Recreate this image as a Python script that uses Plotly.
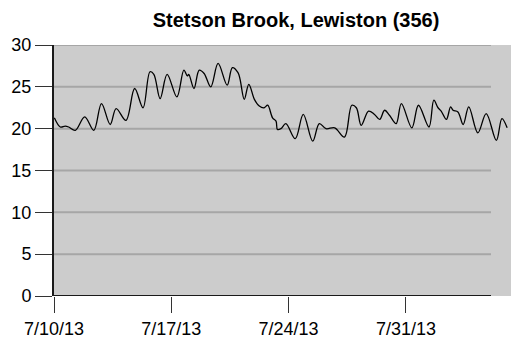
import plotly.graph_objects as go

# Water temperature (°C)
times = [
    "2013-07-10 00:30", "2013-07-10 09:00", "2013-07-10 16:00", "2013-07-10 21:00",
    "2013-07-11 06:30", "2013-07-11 20:00", "2013-07-12 09:00", "2013-07-12 20:00",
    "2013-07-13 08:30", "2013-07-13 17:00", "2013-07-14 07:00", "2013-07-14 19:30",
    "2013-07-15 07:30", "2013-07-15 17:30", "2013-07-15 23:00", "2013-07-16 08:00",
    "2013-07-16 18:00", "2013-07-17 08:00", "2013-07-17 18:00", "2013-07-17 23:00",
    "2013-07-18 01:00", "2013-07-18 08:30", "2013-07-18 16:00", "2013-07-18 23:00",
    "2013-07-19 08:30", "2013-07-19 19:00", "2013-07-20 08:00", "2013-07-20 15:30",
    "2013-07-20 23:30", "2013-07-21 02:30", "2013-07-21 08:30", "2013-07-21 15:00",
    "2013-07-21 23:00", "2013-07-22 06:00", "2013-07-22 13:00", "2013-07-22 18:00",
    "2013-07-23 01:00", "2013-07-23 06:00", "2013-07-23 08:00", "2013-07-23 13:00",
    "2013-07-23 20:00", "2013-07-24 09:30", "2013-07-24 21:00", "2013-07-25 10:30",
    "2013-07-25 20:00", "2013-07-26 05:30", "2013-07-26 18:00", "2013-07-27 08:00",
    "2013-07-27 18:30", "2013-07-28 01:00", "2013-07-28 08:00", "2013-07-28 18:30",
    "2013-07-29 03:00", "2013-07-29 10:30", "2013-07-29 17:30", "2013-07-30 00:30",
    "2013-07-30 10:00", "2013-07-30 17:30", "2013-07-31 08:30", "2013-07-31 18:00",
    "2013-08-01 09:00", "2013-08-01 16:00", "2013-08-01 22:00", "2013-08-02 02:30",
    "2013-08-02 10:00", "2013-08-02 16:00", "2013-08-02 19:30", "2013-08-03 02:30",
    "2013-08-03 10:00", "2013-08-03 18:00", "2013-08-04 07:00", "2013-08-04 19:00",
    "2013-08-05 09:30", "2013-08-05 17:30", "2013-08-06 01:00",
]
temps = [
    21.3, 20.2, 20.3, 20.2,
    19.8, 21.4, 19.8, 23.0,
    20.5, 22.4, 21.0, 24.8,
    22.5, 26.8, 26.5, 23.6,
    26.5, 23.8, 27.0, 26.3,
    26.5, 24.8, 27.0, 26.6,
    25.0, 27.8, 25.2, 27.3,
    26.7, 25.9, 23.5, 25.3,
    23.5, 22.7, 22.5, 22.8,
    21.3, 20.9, 19.9, 20.0,
    20.6, 18.8, 21.7, 18.5,
    20.6, 20.0, 20.1, 19.0,
    22.8, 22.5, 20.4, 22.1,
    21.7, 21.1, 22.2, 21.6,
    20.6, 23.0, 20.1, 22.8,
    20.2, 23.4, 22.5, 22.1,
    21.1, 22.6, 22.2, 22.0,
    20.5, 22.6, 19.5, 21.8,
    18.6, 21.2, 20.1,
]

title_text = "Stetson Brook, Lewiston (356)"
x_tick_vals = ["2013-07-10", "2013-07-17", "2013-07-24", "2013-07-31"]
x_tick_text = ["7/10/13", "7/17/13", "7/24/13", "7/31/13"]
y_tick_vals = [0, 5, 10, 15, 20, 25, 30]
x_range = ["2013-07-10 00:00", "2013-08-06 06:30"]
y_range = [0, 30]

fig = go.Figure()
fig.add_trace(go.Scatter(
    x=times, y=temps, mode="lines",
    line=dict(color="black", width=1.3, shape="spline", smoothing=1.0),
    hoverinfo="skip", showlegend=False,
))

grid_end = (491 - 54) / (511 - 54)
for v in y_tick_vals[1:]:
    fig.add_shape(type="line", xref="x domain", yref="y", x0=0, x1=grid_end, y0=v, y1=v,
                  line=dict(color="#a6a6a6", width=2), layer="below")
fig.add_shape(type="line", xref="x domain", yref="y", x0=0, x1=grid_end, y0=0, y1=0,
              line=dict(color="#1a1a1a", width=2), layer="above")

font_family = "Liberation Sans, Arial, sans-serif"
fig.update_layout(
    width=511, height=343,
    margin=dict(l=54, r=0, t=45, b=47, autoexpand=False),
    paper_bgcolor="white", plot_bgcolor="#cccccc",
    title=dict(text="<b>" + title_text + "</b>", x=296 / 511, xanchor="center",
               y=1 - 20 / 343, yanchor="middle",
               font=dict(family=font_family, size=20, color="black")),
    font=dict(family=font_family, color="black"),
    xaxis=dict(
        type="date", range=x_range, tickvals=x_tick_vals, ticktext=x_tick_text,
        showgrid=False, zeroline=False, showline=False, automargin=False,
        ticks="outside", ticklen=16, tickwidth=1, tickcolor="#333333",
        tickfont=dict(size=18, color="black"),
    ),
    yaxis=dict(
        range=y_range, tickvals=y_tick_vals, showgrid=False, zeroline=False,
        showline=True, linecolor="#1a1a1a", linewidth=2, automargin=False,
        ticks="outside", ticklen=17, tickwidth=1, tickcolor="#333333",
        tickfont=dict(size=18, color="black"),
    ),
)

fig.write_html("out.html", config={"displayModeBar": False, "staticPlot": True},
               post_script="document.body.style.margin='0px';")
